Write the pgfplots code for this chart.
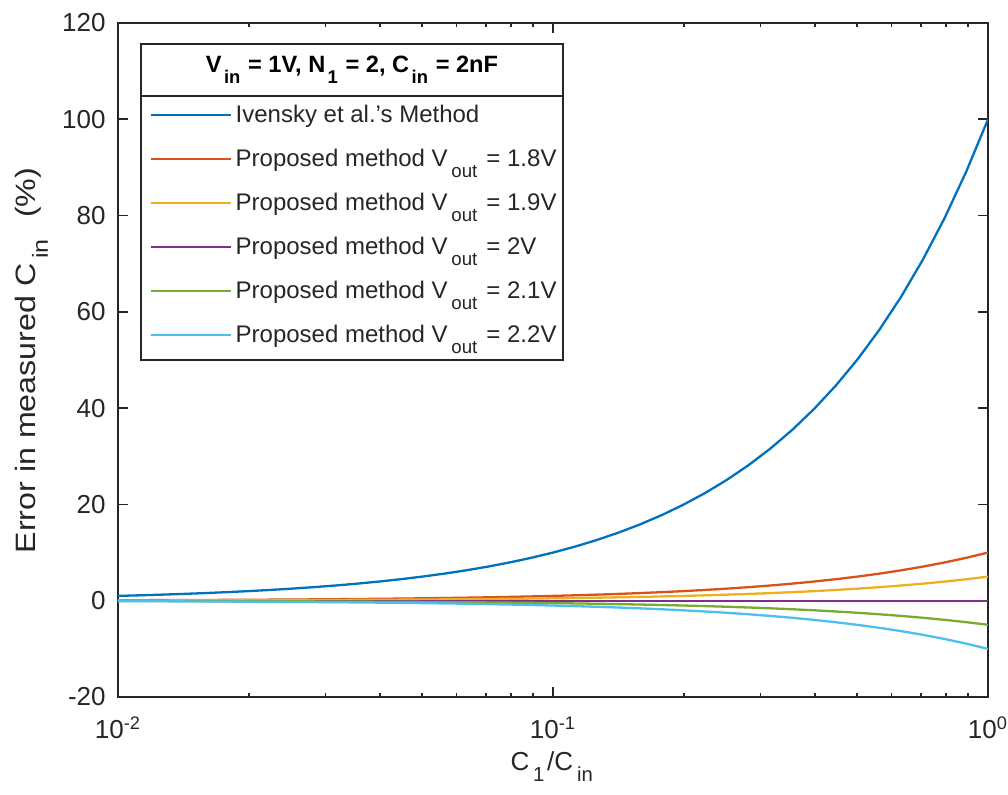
\documentclass[border=0pt]{standalone}
\usepackage{fontspec}
\setmainfont{Liberation Sans}
\usepackage{pgfplots}
\usepackage{pgfplotstable}
\pgfplotsset{compat=1.18}
\definecolor{mb}{rgb}{0,0.447,0.741}
\definecolor{mo}{rgb}{0.85,0.325,0.098}
\definecolor{my}{rgb}{0.929,0.694,0.125}
\definecolor{mp}{rgb}{0.494,0.184,0.556}
\definecolor{mg}{rgb}{0.466,0.674,0.188}
\definecolor{mc}{rgb}{0.301,0.745,0.933}
\definecolor{ax}{rgb}{0.15,0.15,0.15}
\newcommand{\sub}[1]{\raisebox{-0.45em}{\kern0.15em\scalebox{0.78}{#1}}\kern0.1em\relax}
\newcommand{\bsub}[1]{\raisebox{-0.45em}{\kern0.1em\scalebox{0.78}{\bfseries #1}}\kern0.05em\relax}
\pgfplotstableread{
x        iv      p18      p19      p20  p21       p22
0.01     1       0.1      0.05     0    -0.05     -0.1
0.011220 1.1220  0.11220  0.05610  0    -0.05610  -0.11220
0.012589 1.2589  0.12589  0.06295  0    -0.06295  -0.12589
0.014125 1.4125  0.14125  0.07063  0    -0.07063  -0.14125
0.015849 1.5849  0.15849  0.07924  0    -0.07924  -0.15849
0.017783 1.7783  0.17783  0.08892  0    -0.08892  -0.17783
0.019953 1.9953  0.19953  0.09976  0    -0.09976  -0.19953
0.022387 2.2387  0.22387  0.11194  0    -0.11194  -0.22387
0.025119 2.5119  0.25119  0.12559  0    -0.12559  -0.25119
0.028184 2.8184  0.28184  0.14092  0    -0.14092  -0.28184
0.031623 3.1623  0.31623  0.15811  0    -0.15811  -0.31623
0.035481 3.5481  0.35481  0.17741  0    -0.17741  -0.35481
0.039811 3.9811  0.39811  0.19905  0    -0.19905  -0.39811
0.044668 4.4668  0.44668  0.22334  0    -0.22334  -0.44668
0.050119 5.0119  0.50119  0.25059  0    -0.25059  -0.50119
0.056234 5.6234  0.56234  0.28117  0    -0.28117  -0.56234
0.063096 6.3096  0.63096  0.31548  0    -0.31548  -0.63096
0.070795 7.0795  0.70795  0.35397  0    -0.35397  -0.70795
0.079433 7.9433  0.79433  0.39716  0    -0.39716  -0.79433
0.089125 8.9125  0.89125  0.44562  0    -0.44562  -0.89125
0.1      10      1        0.5      0    -0.5      -1
0.11220  11.220  1.1220   0.5610   0    -0.5610   -1.1220
0.12589  12.589  1.2589   0.62946  0    -0.62946  -1.2589
0.14125  14.125  1.4125   0.70626  0    -0.70626  -1.4125
0.15849  15.849  1.5849   0.79245  0    -0.79245  -1.5849
0.17783  17.783  1.7783   0.88914  0    -0.88914  -1.7783
0.19953  19.953  1.9953   0.99763  0    -0.99763  -1.9953
0.22387  22.387  2.2387   1.1194   0    -1.1194   -2.2387
0.25119  25.119  2.5119   1.2559   0    -1.2559   -2.5119
0.28184  28.184  2.8184   1.4092   0    -1.4092   -2.8184
0.31623  31.623  3.1623   1.5811   0    -1.5811   -3.1623
0.35481  35.481  3.5481   1.7741   0    -1.7741   -3.5481
0.39811  39.811  3.9811   1.9905   0    -1.9905   -3.9811
0.44668  44.668  4.4668   2.2334   0    -2.2334   -4.4668
0.50119  50.119  5.0119   2.5059   0    -2.5059   -5.0119
0.56234  56.234  5.6234   2.8117   0    -2.8117   -5.6234
0.63096  63.096  6.3096   3.1548   0    -3.1548   -6.3096
0.70795  70.795  7.0795   3.5397   0    -3.5397   -7.0795
0.79433  79.433  7.9433   3.9716   0    -3.9716   -7.9433
0.89125  89.125  8.9125   4.4562   0    -4.4562   -8.9125
1        100     10       5        0    -5        -10
}\datatable
\begin{document}
\begin{tikzpicture}
\begin{axis}[
  scale only axis, width=435pt, height=337pt,
  xmode=log, xmin=0.01, xmax=1, ymin=-20, ymax=120,
  xtick={0.01,0.1,1},
  xticklabels={10\textsuperscript{-2},10\textsuperscript{-1},10\textsuperscript{0}},
  ytick={-20,0,20,40,60,80,100,120},
  yticklabels={-20,0,20,40,60,80,100,120},
  tick align=inside, major tick length=5pt, minor tick length=2.2pt,
  axis line style={ax, line width=0.9pt},
  every tick/.style={ax, line width=0.9pt},
  ticklabel style={font=\fontsize{13}{15}\selectfont, text=ax},
  xticklabel style={anchor=base, yshift=-20.5pt},
  yticklabel style={anchor=east, inner xsep=0pt, xshift=-6pt},
  label style={text=ax},
  xlabel={C\sub{1}/C\sub{in}},
  xlabel style={font=\fontsize{13}{15}\selectfont, at={(axis description cs:0.5,0)}, anchor=base, yshift=-36.5pt},
  ylabel={\scalebox{1.15}[1]{Error in measured C\sub{in}\ \ (\%)}},
  ylabel style={font=\fontsize{14}{16}\selectfont, at={(axis description cs:0,0.5)}, anchor=north, yshift=55pt, xshift=-0.3pt},
  legend cell align=left,
  legend style={at={(rel axis cs:0.0356,0.882)}, anchor=north west, draw=none, fill=none,
     font=\fontsize{12}{14}\selectfont, text=ax, row sep=9.8pt, inner sep=0pt,
     nodes={inner xsep=2pt, inner ysep=1pt}},
  legend image code/.code={\draw[#1] (0pt,0pt) -- (40pt,0pt);},
  every axis plot/.append style={line width=1.15pt},
]
\addplot[mb] table[x=x,y=iv] {\datatable};
\addplot[mo] table[x=x,y=p18] {\datatable};
\addplot[my] table[x=x,y=p19] {\datatable};
\addplot[mp] table[x=x,y=p20] {\datatable};
\addplot[mg] table[x=x,y=p21] {\datatable};
\addplot[mc] table[x=x,y=p22] {\datatable};
\legend{Ivensky et al.'s Method,
  Proposed method V\sub{out} = 1.8V,
  Proposed method V\sub{out} = 1.9V,
  Proposed method V\sub{out} = 2V,
  Proposed method V\sub{out} = 2.1V,
  Proposed method V\sub{out} = 2.2V}
\end{axis}
\draw[ax, line width=0.6pt] (11.5pt,168.5pt) rectangle (222.5pt,326.5pt);
\draw[ax, line width=0.6pt] (11.5pt,300.5pt) -- (222.5pt,300.5pt);
\node[font=\fontsize{11.8}{14}\selectfont\bfseries, text=black, anchor=base] at (117pt,312pt)
  {V\bsub{in} = 1V, N\bsub{1} = 2, C\bsub{in} = 2nF};
\pgfresetboundingbox
\path (-59pt,-48.5pt) rectangle (445pt,348.5pt);
\end{tikzpicture}
\end{document}
